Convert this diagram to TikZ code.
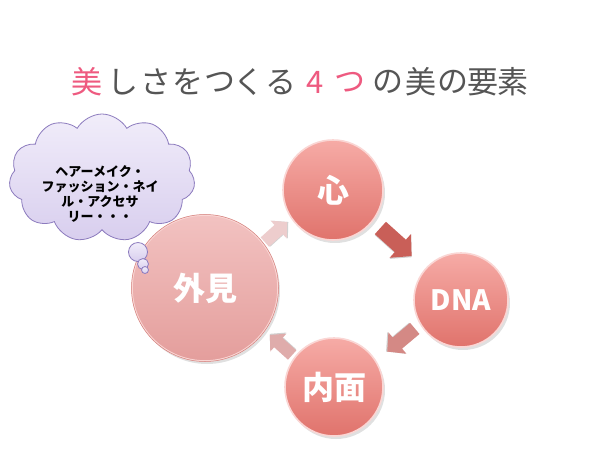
\documentclass[tikz,border=0pt]{standalone}
\usepackage{fontspec}
\usetikzlibrary{shapes.symbols}
\newfontfamily\jp{Noto Sans CJK JP}
\definecolor{tpink}{HTML}{EE5A80}
\definecolor{tgray}{HTML}{555555}
\definecolor{cloudtop}{HTML}{F1EDFA}
\definecolor{cloudbot}{HTML}{D8CEEE}
\definecolor{cloudline}{HTML}{8C7BBE}
\definecolor{ballA}{HTML}{F6ABA6}
\definecolor{ballB}{HTML}{E0736C}
\definecolor{ballC}{HTML}{F2C2C1}
\definecolor{ballD}{HTML}{E49E9C}
\definecolor{rim}{HTML}{FAD6D4}
\definecolor{edge}{HTML}{D27F7B}
\definecolor{arrA}{HTML}{EDCDCD}
\definecolor{arrB}{HTML}{C95F58}
\definecolor{arrC}{HTML}{D48985}
\definecolor{arrD}{HTML}{DFACAB}
\tikzset{
  titlechar/.style={font=\jp\fontsize{31}{31}\selectfont, inner sep=0pt, anchor=center},
  ball/.style={circle, minimum size=#1, inner sep=0pt, top color=ballA, bottom color=ballB,
     draw=rim, line width=1.6pt, text=white, font=\jp\bfseries\fontsize{32}{32}\selectfont},
  paleball/.style={ball=#1, top color=ballC, bottom color=ballD},
  ballshadow/.style={circle, minimum size=#1, inner sep=0pt, fill=black, opacity=0.12},
  bubble/.style={circle, inner sep=0pt, minimum size=#1, top color=cloudtop, bottom color=cloudbot, draw=cloudline, line width=0.8pt},
  pics/barrow/.style args={#1/#2/#3}{code={
    % #1 length, #2 head half-width, #3 colour
    \fill[black, opacity=0.18, shift={(0.8,0.8)}] (-#1/2,-#2*0.52) -- (#1/2-#2*0.95,-#2*0.52) -- (#1/2-#2*0.95,-#2) -- (#1/2,0)
      -- (#1/2-#2*0.95,#2) -- (#1/2-#2*0.95,#2*0.52) -- (-#1/2,#2*0.52) -- cycle;
    \fill[#3] (-#1/2,-#2*0.52) -- (#1/2-#2*0.95,-#2*0.52) -- (#1/2-#2*0.95,-#2) -- (#1/2,0)
      -- (#1/2-#2*0.95,#2) -- (#1/2-#2*0.95,#2*0.52) -- (-#1/2,#2*0.52) -- cycle;
  }},
}
\begin{document}
\begin{tikzpicture}[x=1pt,y=-1pt]
\useasboundingbox[fill=white] (0,0) rectangle (604,459);
% title
\foreach \c/\x/\col [count=\i] in {美/87/tpink,し/123/tgray,さ/156/tgray,を/188/tgray,つ/220/tgray,く/249/tgray,る/281/tgray,4/315/tpink,つ/350/tpink,の/388/tgray,美/421/tgray,の/453/tgray,要/483/tgray,素/513/tgray}
  \node[titlechar, text=\col] (t\i) at (\x,82) {\c};
% shadows
\node[ballshadow=146pt] (s1) at (207,291) {};
\node[ballshadow=100pt] (s2) at (335,193) {};
\node[ballshadow=94pt] (s3) at (463,303) {};
\node[ballshadow=98pt] (s4) at (336,390) {};
% balls
\node[paleball=146pt] (gai) at (205,288) {外見};
\node[ball=100pt] (kokoro) at (333,190) {心};
\node[ball=94pt, font=\jp\bfseries\fontsize{28}{28}\selectfont] (dna) at (461,300) {DNA};
\node[ball=98pt] (nai) at (334,387) {内面};
\draw[edge, line width=0.5pt] (gai) circle (73.5pt);
% arrows
\pic[rotate=42] at (276,232) {barrow=30/12/arrA};
\pic[rotate=-42] at (396,242) {barrow=42/16/arrB};
\pic[rotate=-140] at (401,340) {barrow=36/14/arrC};
\pic[rotate=138] at (281,345) {barrow=30/12/arrD};
% cloud
\node[cloud, cloud puffs=11, cloud puff arc=120, aspect=1.45, minimum width=186pt, minimum height=128pt,
      top color=cloudtop, bottom color=cloudbot, draw=cloudline, line width=0.8pt] (cloud) at (102,178) {};
\node[bubble=19pt] (b1) at (138,252) {};
\node[bubble=11pt] (b2) at (143,264) {};
\node[bubble=7pt] (b3) at (145,270) {};
\node[align=center, font=\jp\bfseries\fontsize{13}{15}\selectfont, text=black] (ctext) at (100,194)
  {ヘアーメイク・\\ファッション・ネイ\\ル・アクセサ\\リー・・・};
\end{tikzpicture}
\end{document}
